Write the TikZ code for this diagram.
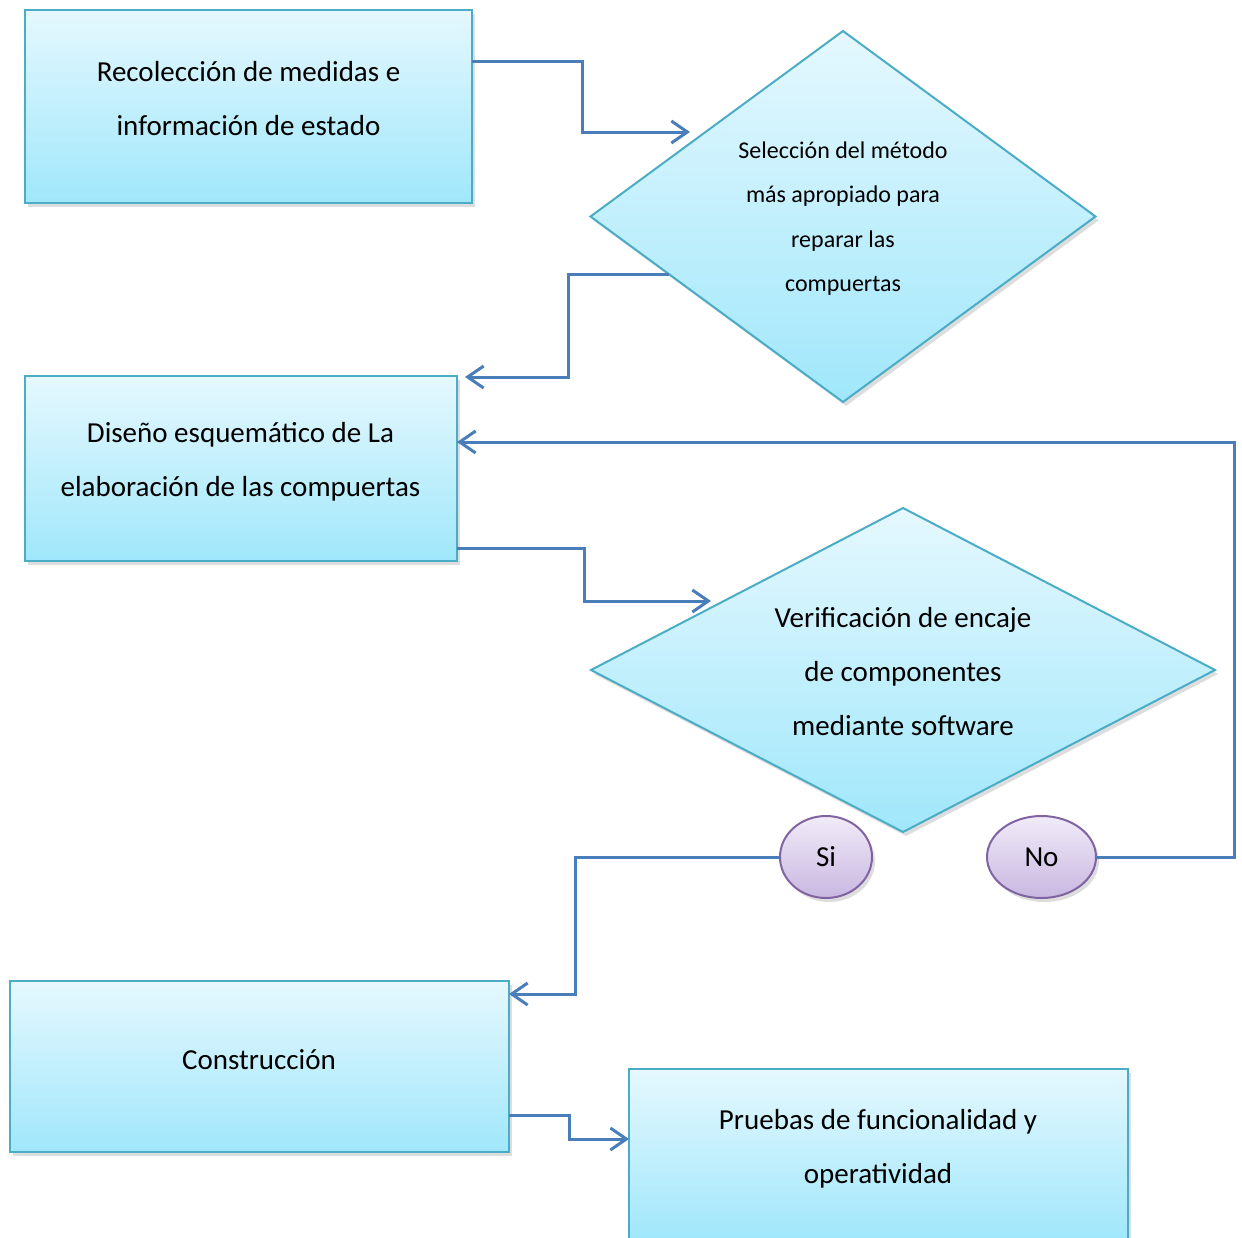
\documentclass[tikz,border=0pt]{standalone}
\usepackage{fontspec}
\setmainfont{Carlito}
\usetikzlibrary{shapes.geometric,arrows.meta,shadows,calc}

\definecolor{boxtop}{RGB}{229,248,254}
\definecolor{boxbot}{RGB}{160,231,251}
\definecolor{boxline}{RGB}{75,172,198}
\definecolor{linkcol}{RGB}{74,126,187}
\definecolor{ovtop}{RGB}{241,235,248}
\definecolor{ovbot}{RGB}{201,183,225}
\definecolor{ovline}{RGB}{128,100,162}

\tikzset{
  softshadow/.style={drop shadow={shadow xshift=3pt,shadow yshift=-4pt,opacity=0.22,fill=black!60}},
  stepbox/.style={rectangle,draw=boxline,line width=2pt,top color=boxtop,bottom color=boxbot,
    softshadow,inner sep=0pt,outer sep=0pt},
  decision/.style={diamond,draw=boxline,line width=2pt,top color=boxtop,bottom color=boxbot,
    softshadow,inner sep=0pt,outer sep=0pt},
  answer/.style={ellipse,draw=ovline,line width=2pt,top color=ovtop,bottom color=ovbot,
    softshadow,inner sep=0pt,outer sep=0pt,font=\fontsize{29}{35}\selectfont},
  bigtext/.style={align=center,inner sep=0pt,font=\fontsize{29}{54}\selectfont},
  smalltext/.style={align=center,inner sep=0pt,font=\fontsize{24}{44.3}\selectfont},
  link/.style={draw=linkcol,line width=3pt,-{Straight Barb[length=16pt,width=22pt,line width=3pt]}},
}

\begin{document}
\begin{tikzpicture}[x=1pt,y=-1pt]
\useasboundingbox (0,0) rectangle (1242,1237);
\clip (0,0) rectangle (1242,1237);

% process boxes
\node[stepbox,minimum width=447pt,minimum height=193pt] (b1) at (248.5,106.5) {};
\node[stepbox,minimum width=432pt,minimum height=185pt] (b2) at (241,468.5) {};
\node[stepbox,minimum width=499pt,minimum height=171pt] (b3) at (259.5,1066.5) {};
\node[stepbox,minimum width=499pt,minimum height=171pt] (b4) at (878.5,1154.5) {};

% decisions
\node[decision,minimum width=505pt,minimum height=371pt] (d1) at (843,216.5) {};
\node[decision,minimum width=624pt,minimum height=324pt] (d2) at (903,670) {};

% answers
\node[answer,minimum width=92pt,minimum height=82pt] (si) at (826,857) {Si};
\node[answer,minimum width=109pt,minimum height=82pt] (no) at (1041.5,857) {No};

% labels
\node[bigtext] (t1) at (248.5,98.5) {Recolección de medidas e\\información de estado};
\node[bigtext] (t2) at (240.5,462) {Diseño esquemático de La\\elaboración de las compuertas};
\node[bigtext] (t3) at (259,1059.5) {Construcción};
\node[bigtext] (t4) at (878,1149) {Pruebas de funcionalidad y\\operatividad};
\node[smalltext] (t5) at (843,218.5) {Selección del método\\más apropiado para\\reparar las\\compuertas};
\node[bigtext] (t6) at (903,672) {Verificación de encaje\\de componentes\\mediante software};

% bend points and arrow ends
\coordinate (c1) at (582,61);
\coordinate (e1) at (690,132);
\coordinate (s2) at ($(d1.west)!0.31!(d1.south)$);
\coordinate (c2) at (568,273);
\coordinate (e2) at (465,377);
\coordinate (c3) at (1234,442);
\coordinate (c4) at (584,548);
\coordinate (e4) at (711,601);
\coordinate (c5) at (575,857);
\coordinate (c6) at (569,1115);

% connectors
\draw[link] (b1.east |- c1) -- (c1) |- (e1);
\draw[link] (s2) -| (c2) |- (e2);
\draw[link] (no.east) -| (c3) -- (c3 -| b2.east);
\draw[link] (b2.east |- c4) -- (c4) |- (e4);
\draw[link] (si.west) -- (c5) |- (b3.east |- 0,994);
\draw[link] (b3.east |- c6) -- (c6) |- (b4.west |- 0,1139);
\end{tikzpicture}
\end{document}
